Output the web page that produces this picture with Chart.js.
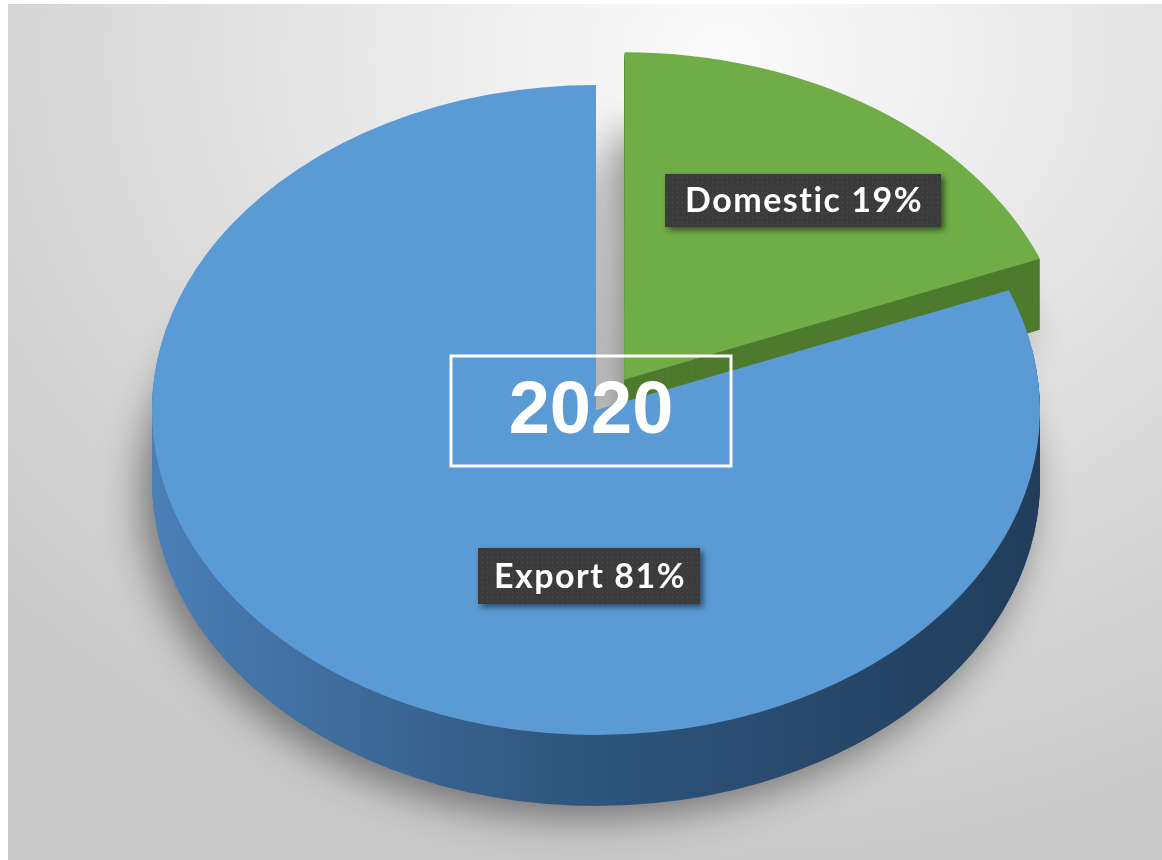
<!DOCTYPE html>
<html>
<head>
<meta charset="utf-8">
<script src="https://cdn.jsdelivr.net/npm/chart.js@4.4.1/dist/chart.umd.min.js"></script>
<style>
    html, body { margin: 0; padding: 0; background: #fff; }
    #slide {
        position: absolute; left: 8px; top: 4px; width: 1154px; height: 856px;
        background: radial-gradient(ellipse 85% 95% at 62% 6%, #fbfbfb 0%, #ececec 30%, #d9d9d9 65%, #c9c9c9 100%);
    }
    #pie { position: absolute; left: 0; top: 0; }
</style>
</head>
<body>
<div id="slide"></div>
<canvas id="pie" width="1162" height="860"></canvas>
<script>
// data
const categories = ['Domestic', 'Export'];
const shares = [19, 81];
const yearLabel = '2020';

// styles
const colors = {
    domestic: '#70ad47',
    domesticSide: '#4e7b2e',
    export: '#5b9bd5',
    labelBox: '#3b3b3b'
};

const SQUASH = 0.732;   // tilt of the pie
const DEPTH = 71;       // thickness of the pie in px

function squash(ctx, arc) {
    ctx.translate(arc.x, arc.y);
    ctx.scale(1, SQUASH);
    ctx.translate(-arc.x, -arc.y);
}

// draw a copy of a chart arc with another fill
function drawArcWith(ctx, arc, fill) {
    const copy = Object.assign(Object.create(Object.getPrototypeOf(arc)), arc);
    copy.options = Object.assign({}, arc.options, { backgroundColor: fill, borderColor: fill, borderWidth: 0 });
    copy.draw(ctx);
}

function dotPattern(ctx) {
    const c = document.createElement('canvas');
    c.width = 5; c.height = 5;
    const p = c.getContext('2d');
    p.fillStyle = colors.labelBox;
    p.fillRect(0, 0, 5, 5);
    p.fillStyle = '#505050';
    p.fillRect(2, 2, 1, 1);
    return ctx.createPattern(c, 'repeat');
}

function labelBox(ctx, text, x, y, w, h) {
    ctx.save();
    ctx.shadowColor = 'rgba(0,0,0,0.55)';
    ctx.shadowBlur = 6;
    ctx.shadowOffsetX = 3;
    ctx.shadowOffsetY = 3;
    ctx.fillStyle = dotPattern(ctx);
    ctx.fillRect(x, y, w, h);
    ctx.restore();
    ctx.save();
    ctx.fillStyle = '#fff';
    ctx.font = 'bold 34px Lato';
    ctx.letterSpacing = '1.5px';
    ctx.textAlign = 'center';
    ctx.textBaseline = 'middle';
    ctx.fillText(text, x + w / 2 + 1, y + h / 2 + 1);
    ctx.restore();
}

const pie3d = {
    id: 'pie3d',
    beforeDatasetsDraw(chart) {
        const ctx = chart.ctx;
        const arcs = chart.getDatasetMeta(0).data;
        const a0 = arcs[0];
        const r = a0.outerRadius;
        const grad = ctx.createLinearGradient(a0.x - r, 0, a0.x + r, 0);
        grad.addColorStop(0, '#4b7fb6');
        grad.addColorStop(0.45, '#30577f');
        grad.addColorStop(1, '#213d5b');
        const sides = [colors.domesticSide, grad];

        for (let d = DEPTH; d >= 1; d--) {
            ctx.save();
            if (d === DEPTH) {
                ctx.shadowColor = 'rgba(0,0,0,0.45)';
                ctx.shadowBlur = 40;
                ctx.shadowOffsetX = -10;
                ctx.shadowOffsetY = 12;
            }
            ctx.translate(0, d);
            squash(ctx, a0);
            arcs.forEach((arc, i) => drawArcWith(ctx, arc, sides[i]));
            ctx.restore();
        }
        ctx.save();
        squash(ctx, a0);
    },
    afterDatasetsDraw(chart) {
        const ctx = chart.ctx;
        ctx.restore();

        // year box in the middle
        ctx.save();
        ctx.strokeStyle = '#fff';
        ctx.lineWidth = 3;
        ctx.strokeRect(451, 356, 280, 110);
        ctx.fillStyle = '#fff';
        ctx.font = 'bold 74px "Liberation Sans"';
        ctx.textAlign = 'center';
        ctx.textBaseline = 'middle';
        ctx.fillText(yearLabel, 591, 413);
        ctx.restore();

        labelBox(ctx, `${categories[0]} ${shares[0]}%`, 665, 174, 276, 53);
        labelBox(ctx, `${categories[1]} ${shares[1]}%`, 478, 548, 222, 56);
    }
};

new Chart(document.getElementById('pie'), {
    type: 'pie',
    data: {
        labels: categories,
        datasets: [{
            data: shares,
            backgroundColor: [colors.domestic, colors.export],
            borderWidth: 0,
            offset: [200, 0],
            hoverOffset: 0,
            clip: false
        }]
    },
    options: {
        responsive: false,
        animation: false,
        events: [],
        radius: 444,
        layout: { padding: { left: 30, top: 0, right: 0, bottom: 40 } },
        plugins: {
            legend: { display: false },
            tooltip: { enabled: false }
        }
    },
    plugins: [pie3d]
});
</script>
</body>
</html>
